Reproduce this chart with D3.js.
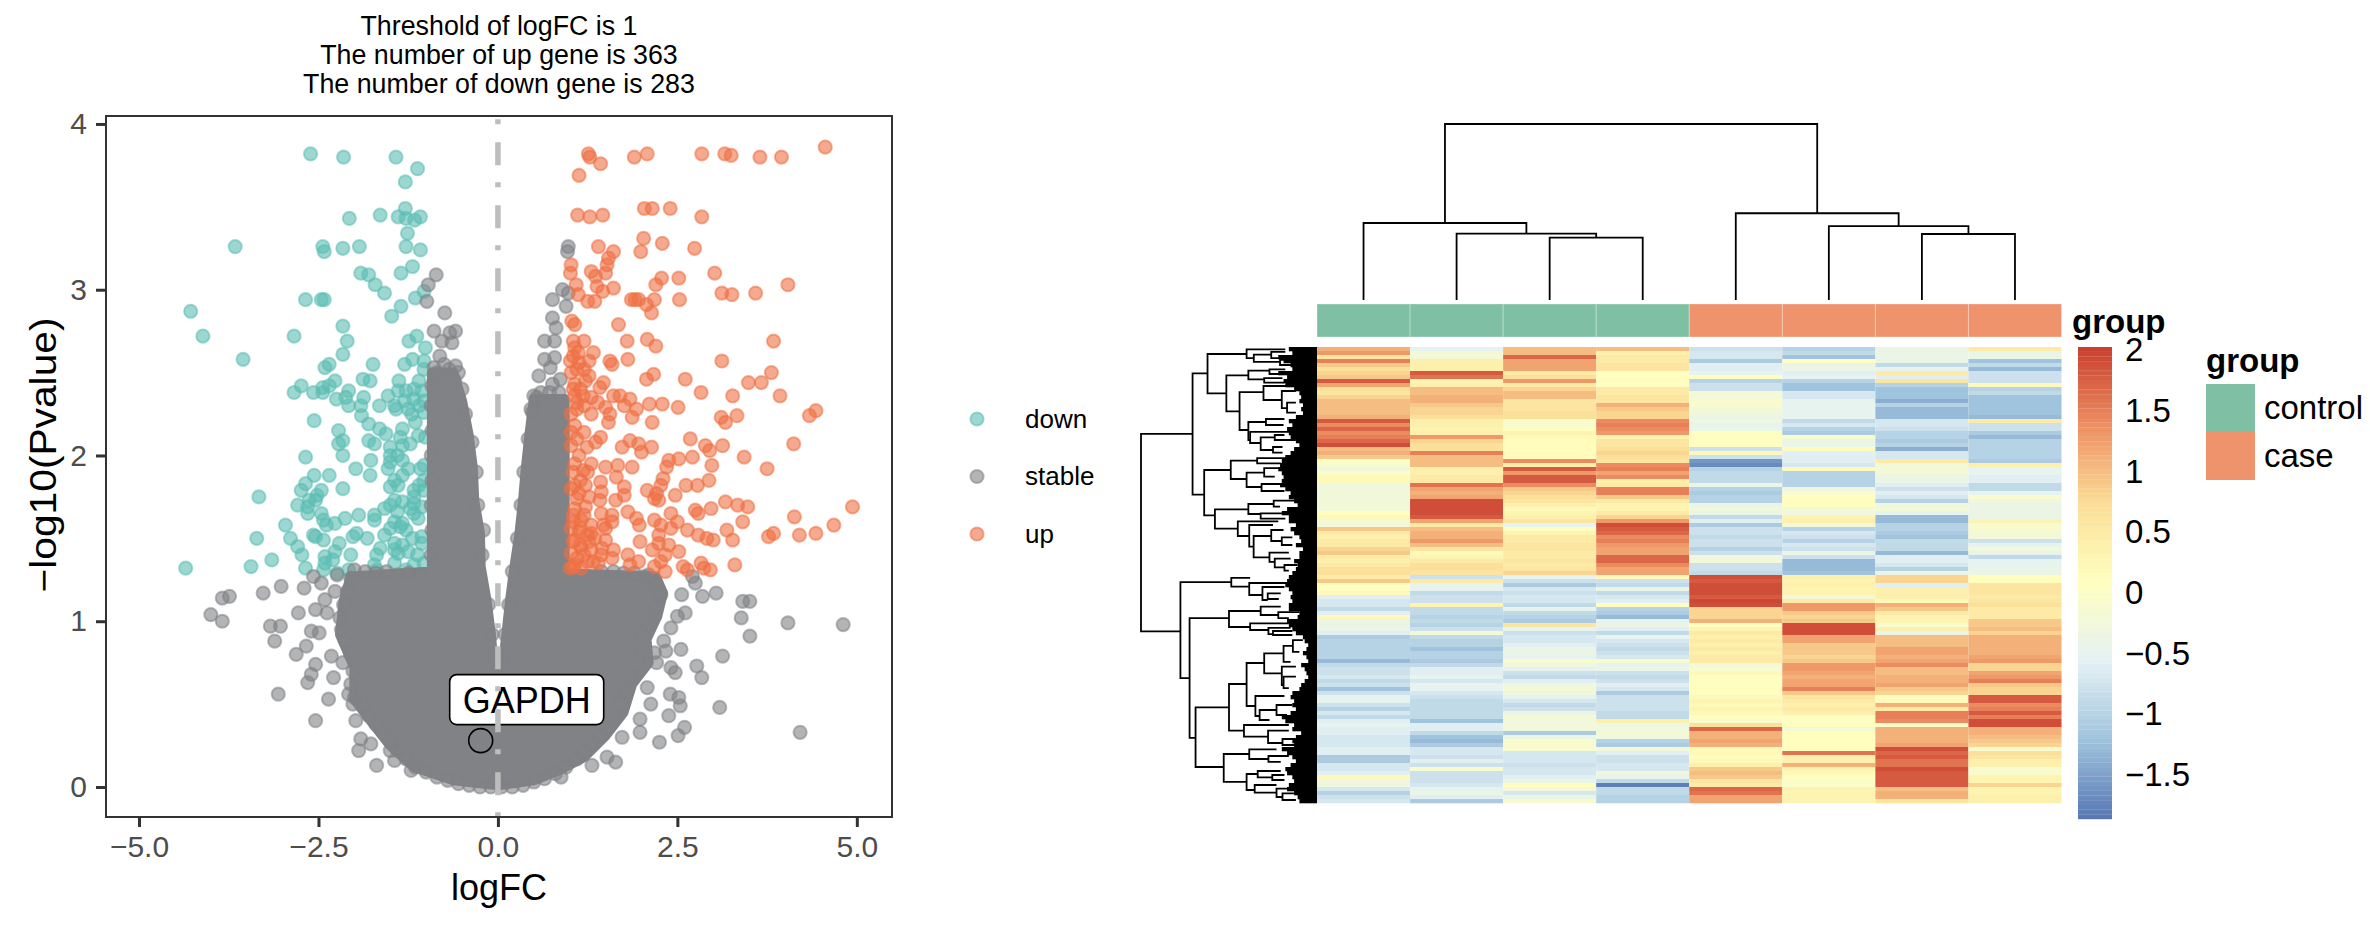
<!DOCTYPE html>
<html>
<head>
<meta charset="utf-8">
<script src="https://cdn.jsdelivr.net/npm/d3@7"></script>
<style>
body { margin: 0; background: #fff; }
text { font-family: "Liberation Sans", Arial, sans-serif; }
</style>
</head>
<body>
<div id="chart"></div>
<script>
// ---- volcano data: [logFC, -log10(Pvalue)]
var titleLines = ["Threshold of logFC is 1", "The number of up gene is 363", "The number of down gene is 283"];
var xTicks = [-5, -2.5, 0, 2.5, 5];
var yTicks = [0, 1, 2, 3, 4];
var groupNames = ["down", "stable", "up"];
var gapdhPoint = [-0.24, 0.28];

var downPoints = [[-2.61,3.82],[-2.15,3.8],[-1.42,3.8],[-1.12,3.73],[-1.29,3.65],[-1.29,3.49],[-2.07,3.43],[-1.64,3.45],[-1.39,3.44],[-1.28,3.43],
[-1.16,3.42],[-1.08,3.44],[-1.26,3.34],[-1.28,3.26],[-1.08,3.24],[-3.66,3.26],[-2.44,3.26],[-2.42,3.23],[-2.16,3.25],[-1.93,3.26],
[-1.19,3.14],[-1.35,3.1],[-1.91,3.1],[-1.8,3.09],[-1.71,3.03],[-1.58,2.98],[-2.68,2.94],[-2.46,2.94],[-2.42,2.94],[-1.15,2.95],
[-1.03,2.99],[-1.35,2.9],[-1.48,2.84],[-4.28,2.87],[-4.11,2.72],[-2.84,2.72],[-2.16,2.78],[-2.1,2.69],[-1.13,2.72],[-1.24,2.69],
[-1.01,2.65],[-3.55,2.58],[-2.16,2.61],[-2.35,2.55],[-2.41,2.53],[-1.74,2.55],[-1.3,2.55],[-1.19,2.58],[-1.03,2.57],[-1.03,2.52],
[-1.88,2.46],[-1.78,2.45],[-2.27,2.45],[-2.74,2.42],[-2.84,2.38],[-2.57,2.38],[-2.44,2.41],[-2.44,2.38],[-2.35,2.42],[-2.08,2.39],
[-2.25,2.34],[-2.12,2.35],[-2.08,2.3],[-1.87,2.35],[-1.91,2.3],[-1.65,2.3],[-1.53,2.36],[-1.44,2.3],[-1.38,2.45],[-1.1,2.45],
[-1.39,2.39],[-1.28,2.39],[-1.17,2.4],[-1.06,2.39],[-1.3,2.33],[-1.17,2.34],[-1.03,2.33],[-1.42,2.28],[-1.25,2.28],[-1.03,2.26],
[-1.9,2.24],[-2.56,2.21],[-1.8,2.19],[-2.22,2.15],[-1.65,2.16],[-1.56,2.13],[-1.33,2.16],[-1.36,2.11],[-1.11,2.12],[-2.16,2.09],
[-2.22,2.07],[-1.8,2.09],[-1.72,2.07],[-1.22,2.07],[-1.5,2.05],[-1.33,2.06],[-1.01,2.11],[-2.16,2],[-1.5,2],[-2.68,1.99],
[-1.77,1.97],[-1.5,1.96],[-1.33,1.97],[-1.98,1.92],[-1.53,1.92],[-1.08,1.92],[-1.03,1.94],[-2.56,1.88],[-2.35,1.88],[-1.78,1.88],
[-1.33,1.88],[-1.44,1.85],[-1.03,1.85],[-2.68,1.83],[-1.5,1.81],[-1.39,1.82],[-2.74,1.79],[-2.46,1.79],[-2.16,1.8],[-1.17,1.79],
[-1.03,1.79],[-2.52,1.76],[-3.33,1.75],[-1.17,1.75],[-2.63,1.73],[-2.54,1.73],[-1.44,1.73],[-1.33,1.72],[-1.17,1.71],[-2.79,1.7],
[-2.65,1.69],[-1.58,1.68],[-1.22,1.68],[-1.06,1.69],[-2.65,1.65],[-2.46,1.65],[-1.94,1.64],[-1.72,1.64],[-1.17,1.65],[-2.13,1.62],
[-2.43,1.61],[-2.27,1.59],[-2.39,1.58],[-1.72,1.61],[-1.44,1.6],[-1.33,1.59],[-1.11,1.62],[-2.96,1.58],[-1.5,1.56],[-1.36,1.57],
[-3.36,1.5],[-2.89,1.5],[-2.57,1.52],[-2.54,1.51],[-2.43,1.49],[-2.02,1.51],[-1.97,1.53],[-1.82,1.5],[-1.06,1.51],[-1.19,1.5],
[-2.21,1.47],[-1.44,1.47],[-1.33,1.46],[-1.06,1.47],[-2.79,1.45],[-2.27,1.42],[-1.64,1.44],[-1.44,1.43],[-2.05,1.4],[-2.73,1.4],
[-2.41,1.39],[-1.69,1.4],[-1.39,1.41],[-3.15,1.37],[-2.41,1.35],[-2.3,1.37],[-1.72,1.34],[-1.44,1.35],[-1.17,1.34],[-1.03,1.35],
[-3.44,1.33],[-4.35,1.32],[-2.68,1.32],[-2.43,1.31],[-2.24,1.29],[-2.08,1.31],[-1.69,1.31],[-1.28,1.31],[-1.58,1.52],[-1.25,1.42],
[-1.12,1.4],[-1.5,1.7],[-1.4,1.66],[-1.28,1.55],[-1.1,1.82],[-1.25,1.92],[-1.4,2.0],[-1.15,2.2],[-1.1,2.3],[-1.2,2.25]];

var upPoints = [[1.26,3.82],[1.28,3.8],[1.43,3.76],[1.13,3.69],[1.9,3.8],[2.08,3.82],[2.84,3.82],[3.16,3.82],[3.25,3.81],[3.65,3.8],
[3.95,3.8],[4.56,3.86],[1.11,3.45],[1.28,3.44],[1.46,3.45],[2.04,3.49],[2.15,3.49],[2.4,3.49],[2.84,3.44],[1.4,3.26],
[1.61,3.23],[2.03,3.31],[1.99,3.23],[2.29,3.28],[2.74,3.25],[1.02,3.15],[1.01,3.1],[1.54,3.19],[1.52,3.15],[1.5,3.1],
[1.3,3.11],[1.36,3.08],[2.28,3.07],[2.2,3.03],[2.52,3.07],[3.02,3.1],[4.04,3.03],[1.09,3.03],[1.12,2.97],[1.38,3.02],
[1.46,2.99],[1.61,3.01],[1.25,2.93],[1.35,2.93],[1.86,2.94],[1.91,2.94],[1.96,2.94],[2.07,2.91],[2.18,2.94],[2.53,2.94],
[3.12,2.98],[3.26,2.97],[3.59,2.98],[2.14,2.86],[1.03,2.81],[1.07,2.79],[1.68,2.79],[1.8,2.69],[2.08,2.7],[2.2,2.66],
[3.84,2.69],[1.05,2.69],[1.2,2.69],[1.07,2.65],[1.33,2.62],[1.12,2.62],[1.81,2.58],[3.12,2.57],[1.01,2.57],[1.13,2.56],
[1.27,2.57],[1.56,2.57],[1.59,2.55],[1.27,2.48],[2.17,2.49],[2.07,2.46],[2.61,2.46],[3.81,2.5],[3.49,2.44],[3.67,2.44],
[1.47,2.44],[1.42,2.41],[1.07,2.43],[1.22,2.45],[2.83,2.38],[3.27,2.36],[3.93,2.36],[1.07,2.36],[1.19,2.36],[1.3,2.35],
[1.61,2.36],[1.7,2.36],[1.39,2.32],[1.84,2.34],[1.1,2.28],[1.5,2.29],[1.76,2.3],[1.93,2.28],[2.11,2.31],[2.29,2.31],
[2.51,2.29],[1.3,2.25],[1.56,2.25],[1.87,2.23],[4.43,2.27],[4.34,2.24],[3.33,2.24],[3.11,2.23],[3.17,2.2],[1.54,2.2],
[2.15,2.2],[1.07,2.18],[1.2,2.14],[1.02,2.14],[1.43,2.11],[1.36,2.08],[1.84,2.09],[1.96,2.07],[2.68,2.1],[2.89,2.06],
[3.13,2.06],[4.12,2.07],[1.73,2.05],[2.14,2.05],[2.95,2.03],[1.24,2.05],[1.02,2.06],[2,2.02],[1.13,2],[3.43,1.99],
[2.71,1.99],[2.52,1.98],[2.38,1.97],[2.98,1.94],[2.35,1.93],[3.75,1.92],[1.3,1.95],[1.5,1.93],[1.67,1.94],[1.87,1.93],
[1.07,1.95],[1.19,1.91],[1.65,1.87],[2.3,1.86],[2.62,1.82],[2.78,1.82],[2.94,1.85],[1.43,1.84],[1.76,1.81],[2.27,1.82],
[2.08,1.79],[1.07,1.82],[1.22,1.82],[1.44,1.78],[2.21,1.77],[1.76,1.76],[2.47,1.76],[2.18,1.74],[2.24,1.73],[3.17,1.72],
[3.34,1.7],[3.48,1.69],[4.94,1.69],[2.75,1.67],[2.97,1.68],[2.79,1.65],[2.41,1.65],[4.13,1.63],[3.41,1.6],[4.68,1.58],
[1.59,1.64],[1.13,1.77],[1.27,1.75],[1.42,1.73],[1.64,1.73],[1.81,1.66],[1.07,1.68],[1.22,1.69],[1.44,1.65],[1.93,1.62],
[2.18,1.61],[2.5,1.6],[1.16,1.61],[1.3,1.58],[1.59,1.6],[1.47,1.58],[1.97,1.58],[2.27,1.58],[2.41,1.56],[2.64,1.55],
[3.19,1.55],[1.02,1.56],[1.13,1.54],[1.3,1.53],[2.24,1.52],[2.79,1.52],[2.91,1.5],[3,1.49],[3.27,1.49],[3.77,1.51],
[3.84,1.53],[4.2,1.52],[4.43,1.53],[1.98,1.48],[1.5,1.49],[2.24,1.47],[2.38,1.46],[1.07,1.49],[1.27,1.48],[1.16,1.44],
[1.3,1.43],[1.61,1.43],[2.15,1.43],[2.52,1.42],[1.81,1.4],[2.33,1.4],[1.02,1.41],[1.44,1.4],[1.96,1.36],[2.27,1.36],
[2.83,1.35],[2.58,1.33],[2.87,1.32],[2.96,1.31],[3.3,1.34],[1.25,1.36],[1.07,1.34],[1.01,1.32],[1.16,1.32],[1.33,1.36],
[1.59,1.38],[1.84,1.34],[2.33,1.3],[2.64,1.31],[2.18,1.33],[1.05,1.33],[1.1,1.38],[1.2,1.4],[1.15,1.46],[1.05,1.48],
[1.25,1.52],[1.05,1.6],[1.15,1.56],[1.4,1.35],[1.45,1.44],[1.35,1.5],[1.5,1.56],[1.2,1.64],[1.05,1.64],[1.1,1.74],
[1.02,1.8],[1.15,1.85],[1.25,1.9],[1.05,1.9],[1.1,2.1],[1.02,2.25],[1.1,2.32],[1.2,2.3],[1.05,2.4],[1.15,2.4],
[1.02,2.5],[1.1,2.52],[1.2,2.52],[1.05,2.6]];

// single points that can still be told apart
var stablePoints = [[-0.86,3.09],[-0.97,3.03],[-0.99,2.93],[-0.74,2.86],[-0.89,2.75],[-0.59,2.75],[-0.67,2.74],[-0.64,2.68],[-0.78,2.69],[-0.81,2.6],
[-0.59,2.54],[-0.89,2.53],[0.98,3.26],[0.97,3.23],[0.9,3],[0.76,2.94],[0.95,2.9],[0.98,2.98],[0.76,2.83],[0.81,2.77],
[0.65,2.69],[0.79,2.69],[0.65,2.58],[0.79,2.59],[0.57,2.48],[0.87,2.46],[0.73,2.53],[0.54,2.35],[0.48,2.26],[0.76,2.43],
[-2.57,1.27],[-2.7,1.2],[-2.46,1.23],[-3.02,1.21],[-3.27,1.17],[-3.74,1.15],[-3.84,1.14],[-4,1.04],[-3.84,1],[-3.17,0.97],
[-3.03,0.97],[-2.78,1.05],[-3.11,0.88],[-2.67,0.85],[-2.81,0.8],[-2.54,0.74],[-2.6,0.68],[-2.65,0.63],[-2.29,0.66],[-3.06,0.56],
[-2.36,0.53],[-2.54,0.4],[-1.98,0.4],[-1.91,0.29],[-1.94,0.22],[-1.69,0.13],[-1.21,0.1],[-2.6,0.94],[-2.54,1.07],[-2.41,1.13],
[-2.27,1.18],[-2.38,1.05],[-2.49,0.93],[-2.32,0.79],[-2.16,0.75],[-2.08,0.56],[-2.02,0.5],[-1.77,0.26],[-1.5,0.22],[-1.44,0.16],
[-2.24,1.28],[2.71,1.27],[2.75,1.23],[2.56,1.16],[2.85,1.15],[3.04,1.17],[3.41,1.12],[3.51,1.12],[3.39,1.02],[4.04,0.99],
[4.81,0.98],[3.51,0.91],[2.61,1.05],[2.5,1.03],[2.41,0.96],[2.31,0.88],[2.34,0.82],[2.55,0.83],[3.13,0.79],[2.77,0.73],
[2.84,0.66],[2.41,0.72],[2.47,0.69],[2.08,0.6],[2.4,0.56],[2.52,0.54],[2.54,0.49],[3.09,0.48],[2.13,0.5],[2.38,0.43],
[2.6,0.36],[2.51,0.31],[2.25,0.27],[4.21,0.33],[1.98,0.41],[1.98,0.33],[1.73,0.3],[1.64,0.15],[1.52,0.18],[1.31,0.13],
[0.88,0.06],[2.18,0.81],[2.21,0.75],[2.18,1.03],[2.27,1.16],[2.04,1.27],[1.44,1.3],[1.61,1.3]];

// points along the rim of the cloud
var stableRim = [[-2.05,1.26],[-2.1,1.18],[-2.15,1.1],[-2.2,1.02],[-2.18,.95],[-2.12,.88],[-2.05,.8],[-2.02,.7],[-2.05,.62],[-2,.54],
[-1.88,.49],[-1.8,.43],[-1.7,.38],[-1.6,.33],[-1.5,.28],[-1.4,.22],[-1.28,.17],[-1.15,.12],[-1,.09],[-.85,.06],
[-.7,.04],[-.55,.02],[-.4,.01],[-.25,0],[-.1,0],[.05,0],[.2,0],[.35,.01],[.5,.03],[.65,.05],
[.8,.08],[.95,.12],[1.1,.17],[1.2,.21],[1.3,.26],[1.42,.31],[1.52,.36],[1.62,.43],[1.7,.5],[1.8,.58],
[1.85,.66],[1.95,.74],[2.02,.82],[2,.92],[2.1,.98],[2.2,1.08],[2.25,1.17],[2.2,1.22],[2.1,1.28],[1.9,1.29],
[1.75,1.29],[-2,1.31],[-1.85,1.3],[-1.7,1.29],[-1.55,1.3],[-1.4,1.28],[-1.25,1.29],[-1.1,1.28],[-.93,1.4],[-.92,1.55],
[-.93,1.7],[-.92,1.85],[-.93,2],[-.92,2.15],[-.93,2.3],[-.92,2.42],[-.22,1.4],[-.2,1.55],[-.28,1.7],[-.3,1.9],
[-.36,2.08],[-.45,2.25],[-.5,2.4],[-.55,2.5],[-.75,2.55],[-.85,2.5],[-.68,2.52],[-.6,2.45],[-.13,1.1],[-.08,.92],
[-.05,.78],[.06,.78],[.1,.92],[.15,1.1],[.2,1.3],[.27,1.5],[.32,1.7],[.36,1.9],[.42,2.1],[.46,2.28],
[.5,2.36],[.6,2.38],[.72,2.38],[.85,2.38]];

// outline of the stable cloud where the points merge into one solid shape
var stableCloud = [[-0.92,2.5],[-0.62,2.5],[-0.5,2.33],[-0.41,2.13],[-0.35,1.93],[-0.33,1.73],[-0.25,1.53],[-0.24,1.33],[-0.16,1.13],[-0.1,0.93],
[-0.06,0.74],[0,0.71],[0.07,0.74],[0.12,0.93],[0.17,1.13],[0.23,1.33],[0.3,1.53],[0.35,1.73],[0.39,1.93],[0.44,2.13],
[0.48,2.27],[0.5,2.34],[0.93,2.34],[0.93,1.29],[2.2,1.27],[2.3,1.17],[2.22,1.03],[2.07,0.89],[2.1,0.75],[1.87,0.62],
[1.75,0.45],[1.5,0.31],[1.2,0.18],[0.85,0.1],[0.5,0.04],[0,0.01],[-0.62,0.04],[-1.17,0.12],[-1.5,0.25],[-1.72,0.37],
[-2,0.53],[-2,0.72],[-2.2,0.92],[-2.15,1.12],[-2.05,1.27],[-0.92,1.3]];

// ---- heatmap data, one array per sample, one value per row band
var sampleControl1 = [1.1,1.3,.6,1.5,.9,.7,.8,.9,1.8,1.2,.7,.6,.8,1,1,1,1,1.1,1.8,1.4,
1.7,1.4,1.5,1.7,1.9,1,1.1,.9,0,-.1,-.3,0,.2,.2,-.3,-.25,-.25,-.25,-.25,-.25,
-.2,.1,.2,-.2,-.25,.9,.5,.4,.5,.5,.8,.9,.5,.4,.5,.7,.7,.5,.9,.1,
.1,.2,-.6,-.7,-.7,-.9,-.6,.2,-.4,-.4,-.4,-.6,-1.1,-1,-1,-1,-1,-1,-1.3,-.9,
-.8,-.8,-.7,-.9,-.8,-1.2,-.8,-.5,-.5,-.8,-1,-.7,-.9,-.6,-.5,-.6,-.6,-.7,-.7,-.7,
-.6,-.6,-1.1,-1.1,-.7,-.7,-.6,.2,-.3,-.3,-.7,-1,-.8,-.7];
var sampleControl2 = [-.5,-.2,-.2,.4,.4,.4,1.8,1.6,.3,.4,1,1,1.1,1.1,.9,.8,.8,.7,.4,.4,
.3,.4,1.3,.8,.7,.7,1.5,1,1,1,.4,.4,.5,.5,1.6,1.2,1.1,1.2,1.9,1.9,
1.9,1.9,1.8,1.2,.5,1,1.1,1.1,1.3,1,.6,.2,.3,.5,.7,.7,.6,-.8,.5,-.5,
-.5,-.9,-.8,-.8,.3,-.9,-.9,-1,-.9,-1,-.8,-.2,-.9,-1,-1,-1.2,-1,-1,-1.1,-.9,
-.6,-.6,-.5,-.7,-.5,-.5,-.7,-.8,-.9,-.9,-.9,-.9,-.9,-1.2,-.6,-.6,-.9,-1.2,-1.3,-1.1,
-.7,-.7,-.8,-.6,-.8,-.1,-.8,-.8,-.8,-.7,-.5,-.4,-.6,-1.1];
var sampleControl3 = [1,1,1.7,1.2,1.2,1.2,.5,.7,1.3,.5,.8,1,1,.6,.6,.6,.7,.7,-.05,-.1,
.1,.3,.2,.15,.15,.15,.15,.15,1.4,.4,1.8,1.3,1.8,1.8,1.4,.9,.8,.7,.6,.4,
.2,.3,.4,.6,-.5,.1,.3,.5,.5,.6,.6,.5,.5,.6,.5,.6,.8,-.5,-.8,-1.1,
-.7,-.8,-.7,-.7,-.9,-.5,-.9,-1,-1.1,.6,-.5,-.8,-.7,-.7,-.6,-.4,-.4,-.5,-.1,-.3,
-.5,-.8,-.9,-.6,-.3,-.2,-.3,-.5,-.7,-.9,-.8,-.4,-.2,-.3,-.2,-.3,-1.1,-.4,-.1,-.1,
-.1,-.7,-.7,-.7,-.8,-.7,-.7,-.6,-.4,.1,-.2,-.7,-.4,-.1];
var sampleControl4 = [1,.4,.5,.5,.6,.6,.1,.1,.05,.05,.5,.5,.6,.6,1.1,.9,.8,.8,1.4,1.5,
1.4,1.3,.3,.6,.6,.7,.8,.7,.6,1.4,1.5,1.2,1.4,.4,.5,1.5,1.5,.9,.5,.3,
.3,.5,.8,1.3,1.9,1.8,1.7,1.4,1.5,1.3,1.2,1.2,1.7,1.7,1.4,1.2,1.2,.2,-.8,-.9,
-.4,-.9,-.7,-.6,.1,-1,-1.1,-1.3,-.5,-.4,-.6,-.9,-.5,-.7,-.8,-.9,-.8,-.7,-.1,-.5,
-.4,-.8,-.9,-.8,-.6,-.7,-1.1,-.8,-.8,-.8,-.8,-.9,-.9,.4,-.3,-.3,-.2,-.3,-1,-1.1,
-.2,-.6,-.8,-.8,-.7,-.7,-.3,-.5,-.9,-1.8,-.9,-.9,-1,-1];
var sampleCase1 = [-.8,-.7,-.7,-1.1,-.6,-.6,-.5,.1,-1,-.8,-.8,-.2,-.2,-.1,-.1,-.2,-.3,-.4,-.3,-.5,
-.4,.05,.05,.1,.05,-.8,.2,-.8,-1.6,-1.7,-1,-.9,-.9,-.9,-.4,-1,-1.1,-1,-1,-.4,
-.3,-.4,-.9,-.6,-1.1,-.8,-.8,-.9,-.8,-.8,-1,-.8,-.3,-.2,-.8,-.8,-.9,1.9,1.8,1.9,
1.9,1.9,1.8,1.95,1.9,.8,.8,.8,1.1,.1,.3,.5,.4,.5,.4,.5,.4,.5,.5,-.2,
-.1,.2,.1,.1,.1,.1,.05,.2,.3,.2,.3,.2,.1,-.1,.7,1.7,1.1,1.1,1.2,1.1,
.2,.2,.15,.2,.4,.9,1,.9,.6,.5,1.7,1.6,1.2,1.2];
var sampleCase2 = [-1,-.9,-1.2,.1,-.4,-.4,-.6,-.5,-1,-1.2,-1.2,-.7,-.7,-.5,-.5,-.5,-.5,-.5,-.9,-.7,
-1,-1.1,-.1,-.4,-.4,.15,-.6,-.6,-.6,-.7,.2,-1,-1,-1,-1,-.3,-.1,.1,.1,.1,
-.2,-.3,.3,.4,-.2,-1,-.7,-.8,-1,-.7,-.8,-.4,-.8,-1.3,-1.3,-1.3,-1.2,.4,.3,.4,
.3,.3,-.2,.5,1.3,1.3,.9,.8,.9,1.9,1.9,1.9,1.2,1.2,.9,.9,.9,.8,.9,1.3,
1.3,1.2,1.1,1.2,1.2,1.5,.9,.6,.5,.4,.5,.4,.05,.05,.1,-.2,.15,.1,.1,.1,
.1,1.6,.4,.4,1.1,.3,.2,.1,-.05,-.05,.3,.3,.3,.3];
var sampleCase3 = [-.4,-.4,-.4,-.4,-.9,-.5,.5,-.6,.6,-1,-1.2,-1.2,-1.2,-1.4,-1,-1.3,-1.3,-1.3,-.7,-.7,
-.8,-1,-1,-1.1,-1,-1.4,-.7,-.7,.5,-.2,-.2,-.2,-.4,-.4,-.6,-.8,-.6,-.7,-1,-.3,
-.2,-.5,-1.3,-1.3,-1,-1,-1.1,-1.2,-.9,-.9,-.9,-1.3,-.6,-.6,-.7,-1,-.4,.8,.8,-.6,
.4,.4,.4,.2,1.1,.9,.5,.3,.3,-.1,.4,-.4,1,1,1,1.2,1.2,1.1,1.2,1.4,
1,1,1.1,1.1,1.2,.9,.8,.1,.2,1.1,.5,1.5,1.5,1.4,-.05,1.1,1.1,1.1,1.1,1.2,
1.9,1.7,1.8,1.6,1.6,1.9,1.8,1.8,1.8,1.8,1,1.1,1.1,.6];
var sampleCase4 = [.5,-.4,-.4,-1.2,-.9,-1.3,-.8,-.8,-.8,.2,-1,-.9,-1.2,-1.2,-1.2,-1.2,-1.2,-1.3,.5,-.8,
-.8,-1.1,-1.3,-1,-1,-1,-1,-1,-1.1,.4,-.5,-.5,-.6,-.6,-.9,-.9,-.5,-.1,-.3,-.4,
-.4,-.4,-.4,.3,-.1,-.1,-.2,-.2,-.8,-.5,-.2,-.5,-.9,-.5,-.5,-.4,-.4,.1,.1,.6,
.6,.6,.5,.6,.7,.5,.5,.5,.9,.9,1,.8,1.1,1.1,1.1,1.1,1.1,1.2,1.3,.8,
.8,1.2,1.3,1.5,.9,.8,.8,1.8,1.8,1.4,1.5,1.8,1.5,1.9,1.9,1.1,1.1,1,.9,.8,
-.1,.7,.6,.4,.4,-.1,-.1,.3,.3,.8,.3,.3,.4,.4];
var samples = [sampleControl1, sampleControl2, sampleControl3, sampleControl4, sampleCase1, sampleCase2, sampleCase3, sampleCase4];
var sampleGroups = ["control", "control", "control", "control", "case", "case", "case", "case"];
var groupLevels = ["control", "case"];
var colorTicks = [2, 1.5, 1, 0.5, 0, -0.5, -1, -1.5];
var colorStops = [-1.87, -1.22, -0.57, 0.08, 0.72, 1.37, 2.02];

// dendrograms: [height, posA, posB, heightA, heightB]
var colMerges = [[35.4,2.5,3.5,0,0],[37.7,1.5,3,0,35.4],[43.75,0.5,2.25,0,37.7],[37.5,6.5,7.5,0,0],[42,5.5,7,0,37.5],[49.3,4.5,6.25,0,42],[100,1.375,5.375,43.75,49.3]];
var rowMerges = [[100,21.7,71.1,70.7,77.6],[70.7,6.6,36.9,62.2,64.1],[62.2,1.75,11.6,40,51.5],[40,.6,2.8,18,35.9],[35.9,1.9,3.7,26,21],[26,1.2,2.8,18,15],[21,3.2,4.5,16,14],
[51.5,7.1,16.1,39,44],[39,5.9,8.1,27,30],[27,5.6,6.75,18,18],[30,7.8,8.9,19.6,18.5],[44,11.3,20.75,30.4,39],[30.4,9.75,13.25,15,20],[20,11,15.3,12,17],[17,13.9,16.4,12,12],
[39,18.75,23.25,29,38],[29,18,19.5,18.5,19],[38,21.2,24,15,32],[32,22.6,25.75,24,25],[24,22,23.25,18.5,12],[25,25,26.4,19.6,19.6],
[64.1,30.75,42.1,49,58],[49,28.4,33,34,40],[34,27.8,29.1,11,20.6],[40,31.4,35,30,31.5],[30,30.3,32.4,20.6,24],[31.5,34.25,36,17,18.5],
[58,40.6,45.4,39,45],[39,39.25,41.75,24.6,32],[24.6,38.4,39.9,12,21],[32,41.6,42.9,18.5,18],[45,43.6,47.25,22,38.5],[38.5,44.5,49.9,25,36],[36,47.25,52.6,26,27],[26,45.75,48.5,19,20],[20,47.6,49.5,14,14],
[27,51.4,53.7,16,24],[24,52.9,55.1,15,18.5],[18.5,54.5,55.9,11,16],
[77.6,58.8,82.8,48.7,72.4],[48.7,57.7,59.9,38,38.5],[38.5,59,62,16,31],[31,60,63.25,18.5,28],[28,61.6,63,20.6,21.7],
[72.4,67.8,97.7,50,69],[50,66,70,32,38],[32,64.9,67,20.6,22],[22,66.3,67.8,10,16],[38,69.1,70.75,16,27.6],[27.6,70.2,71.8,15,25],[25,71,72,14,14],
[69,90.1,105,50,53],[50,84.25,95.9,40,41.5],[40,79,89.75,30,35],[30,76.6,81.6,19,20],[19,74.7,78.7,13.7,15],[13.7,73.3,76.2,8,10],[20,79.9,84.5,12,19],[19,82.4,85.3,12,16],
[35,87.25,92.25,18.5,32.6],[32.6,90.75,93.25,23,27],[23,89.5,92,14,17],[41.5,94.5,97.4,16,27.8],[27.8,95.9,99,16,19.6],[19.6,98,99.5,12,12],
[53,101.75,108.7,38.5,40],[38.5,100.6,103,23,27.6],[27.6,102.25,103.7,16,20.6],[40,106.75,110.75,33.7,35.4],[33.7,106,107.6,20.6,25.4],[25.4,107,108.25,18.5,18.5],[35.4,109.5,111.4,23,23],[23,110.4,112.5,11,19.6],[19.6,111.6,113.25,10,12]];
// where the solid black leaf block starts, per row band
var rowLeafEdge = [16,14,22,19,15,14,22,17,19,18,13,10,9,10,8,9,8,12,16,14,17,16,15,12,10,13,15,18,20,21,
22,20,19,20,21,18,15,16,13,11,17,20,16,16,12,15,13,10,9,12,8,10,10,13,11,12,14,16,17,18,
16,14,15,14,16,16,10,11,17,16,14,12,8,7,5,6,8,6,5,9,7,6,5,7,9,10,14,15,13,14,
12,15,20,18,13,14,9,12,14,13,20,17,14,12,15,18,17,14,13,16,17,13,11,10];

var svg = d3.select("#chart").append("svg")
    .attr("width", 2370)
    .attr("height", 940);

// ---- volcano plot
var panel = {left: 106, right: 892, top: 116, bottom: 817};
var x = d3.scaleLinear().domain([-5.46, 5.49]).range([panel.left, panel.right]);
var y = d3.scaleLinear().domain([-0.181, 4.048]).range([panel.bottom, panel.top]);
var groupColor = d3.scaleOrdinal().domain(groupNames).range(["#5bbdb2", "#808285", "#ee7043"]);

function drawPoints(data, group) {
    svg.append("g").selectAll("circle")
        .data(data)
        .enter().append("circle")
        .attr("cx", function(d) { return x(d[0]); })
        .attr("cy", function(d) { return y(d[1]); })
        .attr("r", 6.6)
        .attr("fill", groupColor(group))
        .attr("fill-opacity", 0.6)
        .attr("stroke", groupColor(group))
        .attr("stroke-opacity", 0.55)
        .attr("stroke-width", 2);
}

drawPoints(downPoints, "down");

svg.append("path")
    .datum(stableCloud)
    .attr("d", d3.line().x(function(d) { return x(d[0]); }).y(function(d) { return y(d[1]); }).curve(d3.curveLinearClosed))
    .attr("fill", groupColor("stable"))
    .attr("stroke", groupColor("stable"))
    .attr("stroke-width", 10)
    .attr("stroke-linejoin", "round");

drawPoints(stableRim, "stable");
drawPoints(stablePoints, "stable");
drawPoints(upPoints, "up");

// GAPDH label
svg.append("circle")
    .attr("cx", x(gapdhPoint[0]))
    .attr("cy", y(gapdhPoint[1]))
    .attr("r", 12)
    .attr("fill", "none")
    .attr("stroke", "#000")
    .attr("stroke-width", 1.6);
svg.append("rect")
    .attr("x", x(gapdhPoint[0]) - 31)
    .attr("y", y(gapdhPoint[1]) - 66)
    .attr("width", 154)
    .attr("height", 50)
    .attr("rx", 7)
    .attr("ry", 7)
    .attr("fill", "#fff")
    .attr("stroke", "#000")
    .attr("stroke-width", 1.6);
svg.append("text")
    .attr("x", x(gapdhPoint[0]) + 46)
    .attr("y", y(gapdhPoint[1]) - 41)
    .attr("dy", ".36em")
    .attr("text-anchor", "middle")
    .attr("font-size", 36)
    .text("GAPDH");

// threshold line sits over the points and the label
svg.append("line")
    .attr("x1", x(0)).attr("x2", x(0))
    .attr("y1", panel.top).attr("y2", panel.bottom)
    .attr("stroke", "#bdbdbd")
    .attr("stroke-width", 5.5)
    .attr("stroke-dasharray", "5 18 23 17")
    .attr("stroke-dashoffset", -3.3);

svg.append("rect")
    .attr("x", panel.left)
    .attr("y", panel.top)
    .attr("width", panel.right - panel.left)
    .attr("height", panel.bottom - panel.top)
    .attr("fill", "none")
    .attr("stroke", "#333")
    .attr("stroke-width", 2);

var xAxis = svg.append("g")
    .attr("transform", "translate(0," + panel.bottom + ")")
    .call(d3.axisBottom(x).tickValues(xTicks).tickFormat(d3.format(".1f")).tickSize(10).tickPadding(9));
var yAxis = svg.append("g")
    .attr("transform", "translate(" + panel.left + ",0)")
    .call(d3.axisLeft(y).tickValues(yTicks).tickFormat(d3.format("d")).tickSize(10).tickPadding(9));
[xAxis, yAxis].forEach(function(a) {
    a.select(".domain").remove();
    a.selectAll("line").attr("stroke", "#333").attr("stroke-width", 3);
    a.selectAll("text").attr("fill", "#4d4d4d").attr("font-size", 30).attr("font-family", "Liberation Sans");
});

svg.selectAll(".title-line")
    .data(titleLines)
    .enter().append("text")
    .attr("class", "title-line")
    .attr("x", 499)
    .attr("y", function(d, i) { return 35 + i * 29; })
    .attr("text-anchor", "middle")
    .attr("font-size", 26.8)
    .text(function(d) { return d; });

svg.append("text")
    .attr("x", 499)
    .attr("y", 900)
    .attr("text-anchor", "middle")
    .attr("font-size", 36)
    .text("logFC");

svg.append("text")
    .attr("transform", "translate(56,455) rotate(-90)")
    .attr("text-anchor", "middle")
    .attr("font-size", 36)
    .attr("textLength", 275)
    .attr("lengthAdjust", "spacingAndGlyphs")
    .text("\u2212log10(Pvalue)");

var legendY = d3.scalePoint().domain(groupNames).range([419, 534]);
svg.append("g").selectAll("circle")
    .data(groupNames)
    .enter().append("circle")
    .attr("cx", 977)
    .attr("cy", function(d) { return legendY(d); })
    .attr("r", 6.6)
    .attr("fill", function(d) { return groupColor(d); })
    .attr("fill-opacity", 0.6)
    .attr("stroke", function(d) { return groupColor(d); })
    .attr("stroke-opacity", 0.55)
    .attr("stroke-width", 2);
svg.append("g").selectAll("text")
    .data(groupNames)
    .enter().append("text")
    .attr("x", 1025)
    .attr("y", function(d) { return legendY(d); })
    .attr("dy", ".33em")
    .attr("font-size", 26)
    .text(function(d) { return d; });

// ---- heatmap
var heat = {left: 1317, right: 2061.5, top: 347, bottom: 803};
var nRows = samples[0].length;
var colPos = d3.scaleLinear().domain([0, samples.length]).range([heat.left, heat.right]);
var rowPos = d3.scaleLinear().domain([0, nRows]).range([heat.top, heat.bottom]);
var heatColor = d3.scaleLinear()
    .domain(colorStops)
    .range(["#5677b3", "#9fc3dd", "#e4f1f4", "#ffffc0", "#fbdf98", "#ee8f62", "#c93f2e"])
    .clamp(true);

samples.forEach(function(values, c) {
    svg.append("g").selectAll("rect")
        .data(values)
        .enter().append("rect")
        .attr("x", colPos(c))
        .attr("y", function(d, i) { return rowPos(i); })
        .attr("width", colPos(c + 1) - colPos(c))
        .attr("height", rowPos(1) - rowPos(0) + 0.3)
        .attr("fill", function(d) { return heatColor(d); });
});

// annotation bar
var annColor = d3.scaleOrdinal().domain(groupLevels).range(["#7fc0a4", "#ee936b"]);
svg.append("g").selectAll("rect")
    .data(sampleGroups)
    .enter().append("rect")
    .attr("x", function(d, i) { return colPos(i); })
    .attr("y", 304)
    .attr("width", colPos(1) - colPos(0))
    .attr("height", 33)
    .attr("fill", function(d) { return annColor(d); })
    .attr("stroke", "#fff")
    .attr("stroke-opacity", 0.3)
    .attr("stroke-width", 1);

// top dendrogram
var colHeight = d3.scaleLinear().domain([0, 100]).range([300, 124]);
function colBracket(m) {
    return "M" + colPos(m[1]) + "," + colHeight(m[3]) + "V" + colHeight(m[0]) + "H" + colPos(m[2]) + "V" + colHeight(m[4]);
}
svg.append("g").selectAll("path")
    .data(colMerges)
    .enter().append("path")
    .attr("d", colBracket)
    .attr("fill", "none")
    .attr("stroke", "#000")
    .attr("stroke-width", 1.8);

// left dendrogram
var rowHeight = d3.scaleLinear().domain([0, 100]).range([heat.left, 1141]);
function rowBracket(m) {
    return "M" + rowHeight(m[3]) + "," + rowPos(m[1]) + "H" + rowHeight(m[0]) + "V" + rowPos(m[2]) + "H" + rowHeight(m[4]);
}
svg.append("g").selectAll("path")
    .data(rowMerges)
    .enter().append("path")
    .attr("d", rowBracket)
    .attr("fill", "none")
    .attr("stroke", "#000")
    .attr("stroke-width", 1.8);
svg.append("g").selectAll("rect")
    .data(rowLeafEdge)
    .enter().append("rect")
    .attr("x", function(d) { return rowHeight(d); })
    .attr("y", function(d, i) { return rowPos(i); })
    .attr("width", function(d) { return heat.left - rowHeight(d); })
    .attr("height", rowPos(1) - rowPos(0) + 0.3)
    .attr("fill", "#000");

// colour bar
var barY = d3.scaleLinear().domain([-1.87, 2.02]).range([819, 347]);
var barSteps = d3.range(100);
svg.append("g").selectAll("rect")
    .data(barSteps)
    .enter().append("rect")
    .attr("x", 2078)
    .attr("y", function(d) { return barY(-1.87 + (d + 1) * 3.89 / 100); })
    .attr("width", 34)
    .attr("height", barY(0) - barY(3.89 / 100) + 0.2)
    .attr("fill", function(d) { return heatColor(-1.87 + (d + 0.5) * 3.89 / 100); });
svg.append("g").selectAll("text")
    .data(colorTicks)
    .enter().append("text")
    .attr("x", 2125)
    .attr("y", function(d) { return barY(d); })
    .attr("dy", ".36em")
    .attr("font-size", 33)
    .text(function(d) { return d3.format("")(d); });
svg.append("text")
    .attr("x", 2072)
    .attr("y", 333)
    .attr("font-size", 33)
    .attr("font-weight", "bold")
    .text("group");

// group legend
var legendBand = d3.scaleBand().domain(groupLevels).range([384, 480]);
svg.append("text")
    .attr("x", 2206)
    .attr("y", 372)
    .attr("font-size", 33)
    .attr("font-weight", "bold")
    .text("group");
svg.append("g").selectAll("rect")
    .data(groupLevels)
    .enter().append("rect")
    .attr("x", 2206)
    .attr("y", function(d) { return legendBand(d); })
    .attr("width", 49)
    .attr("height", legendBand.bandwidth())
    .attr("fill", function(d) { return annColor(d); });
svg.append("g").selectAll("text")
    .data(groupLevels)
    .enter().append("text")
    .attr("x", 2264)
    .attr("y", function(d) { return legendBand(d) + legendBand.bandwidth() / 2; })
    .attr("dy", ".34em")
    .attr("font-size", 33)
    .text(function(d) { return d; });
</script>
</body>
</html>
